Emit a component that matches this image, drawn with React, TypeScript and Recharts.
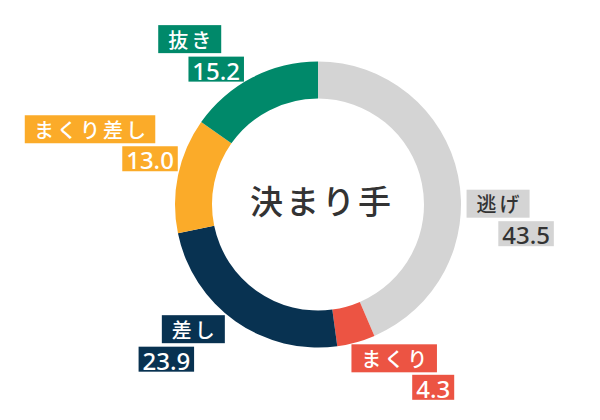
import { PieChart, Pie, Cell } from "recharts";

const kimarite = ["逃げ", "まくり", "差し", "まくり差し", "抜き"];
const rates = [43.5, 4.3, 23.9, 13.0, 15.2];

const COLORS = ["#d4d4d4", "#ec5443", "#083251", "#fbab29", "#00896a"];
const TEXT_COLORS = ["#333333", "#ffffff", "#ffffff", "#ffffff", "#ffffff"];

// box centres, offset from the slice's mid point on the outer edge
const LABEL_OFFSETS = [
  { name: [40, 28], value: [68, 58] },
  { name: [38, 16], value: [77, 45] },
  { name: [-42, 8], value: [-69, 38] },
  { name: [-88, -46], value: [-28, -16.5] },
  { name: [-62.5, -38.4], value: [-36, -8.4] },
];

const data = kimarite.map((name, i) => ({ name, value: rates[i] }));

const RADIAN = Math.PI / 180;
const FONT = "'Noto Sans', 'Noto Sans CJK JP', sans-serif";

function valueWidth(s: string) {
  let w = 0;
  for (const ch of s) w += ch === "." ? 6 : 13.5;
  return w + 9;
}

function renderLabel(props: any) {
  const { cx, cy, midAngle, outerRadius, index } = props;
  const mx = cx + outerRadius * Math.cos(-midAngle * RADIAN);
  const my = cy + outerRadius * Math.sin(-midAngle * RADIAN);
  const off = LABEL_OFFSETS[index];
  const name = kimarite[index];
  const val = rates[index].toFixed(1);
  const nw = name.length * 22.5 + 18;
  const vw = valueWidth(val);
  const nx = mx + off.name[0];
  const ny = my + off.name[1];
  const vx = mx + off.value[0];
  const vy = my + off.value[1];
  return (
    <g>
      <rect x={nx - nw / 2} y={ny - 14} width={nw} height={28} fill={COLORS[index]} />
      <text
        x={nx + 1.5}
        y={ny + 1}
        textAnchor="middle"
        dominantBaseline="central"
        fill={TEXT_COLORS[index]}
        fontSize={20}
        fontWeight={500}
        letterSpacing={3}
        fontFamily={FONT}
      >
        {name}
      </text>
      <rect x={vx - vw / 2} y={vy - 12.5} width={vw} height={25} fill={COLORS[index]} />
      <text
        x={vx}
        y={vy + 1}
        textAnchor="middle"
        dominantBaseline="central"
        fill={TEXT_COLORS[index]}
        fontSize={24}
        fontWeight={500}
        fontFamily={FONT}
      >
        {val}
      </text>
    </g>
  );
}

export default function App() {
  return (
    <div style={{ position: "absolute", left: 0, top: 0, width: 600, height: 420, background: "#fff" }}>
      <PieChart width={600} height={420} margin={{ top: 0, right: 0, bottom: 0, left: 0 }}>
        <Pie
          data={data}
          dataKey="value"
          nameKey="name"
          cx={318}
          cy={204.5}
          innerRadius={106}
          outerRadius={143}
          startAngle={90}
          endAngle={-270}
          stroke="none"
          label={renderLabel}
          labelLine={false}
          isAnimationActive={false}
        >
          {data.map((_, i) => (
            <Cell key={i} fill={COLORS[i]} />
          ))}
        </Pie>
        <text
          x={322}
          y={201}
          textAnchor="middle"
          dominantBaseline="central"
          fontSize={33}
          fontWeight={500}
          letterSpacing={3}
          fill="#333333"
          fontFamily={FONT}
        >
          決まり手
        </text>
      </PieChart>
    </div>
  );
}
